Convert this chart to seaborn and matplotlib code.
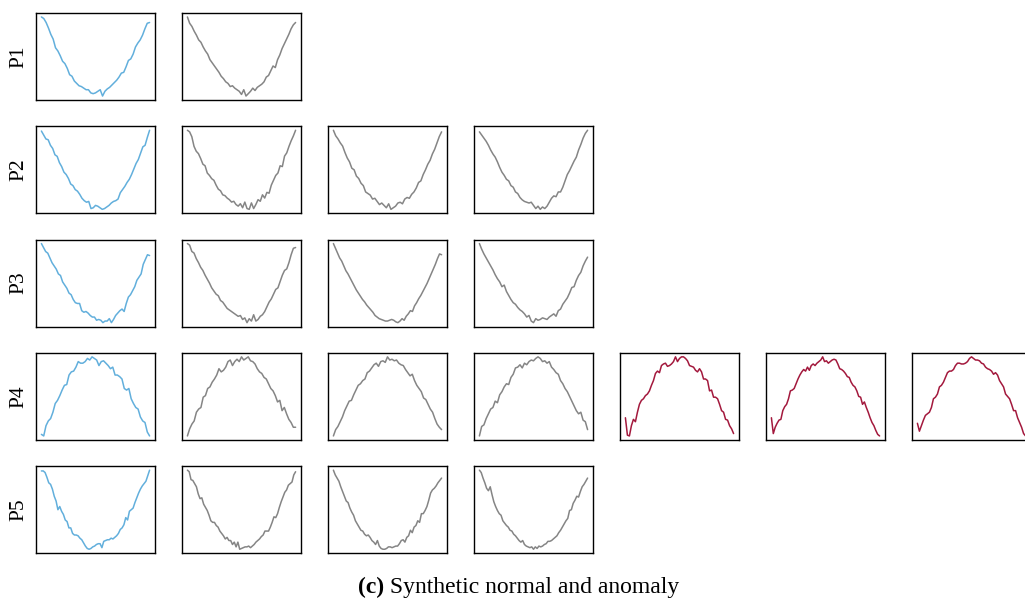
# Synthetic normal and anomaly series, one small panel per series
import numpy as np
import matplotlib.pyplot as plt
import seaborn as sns

# --- values (normalised amplitude, 0 = lowest point) ---
p1_ref = [1.00, 0.98, 0.93, 0.86, 0.78, 0.72, 0.61, 0.57, 0.51, 0.44, 0.41, 0.35, 0.27, 0.25, 0.19, 0.16,
          0.13, 0.12, 0.10, 0.08, 0.08, 0.04, 0.03, 0.04, 0.06, 0.08, 0.00, 0.06, 0.09, 0.11, 0.14, 0.17,
          0.20, 0.24, 0.29, 0.30, 0.37, 0.45, 0.47, 0.53, 0.62, 0.67, 0.71, 0.77, 0.85, 0.92, 0.93]
p1_n1 = [1.00, 0.92, 0.88, 0.82, 0.77, 0.71, 0.68, 0.62, 0.57, 0.53, 0.46, 0.42, 0.38, 0.34, 0.30, 0.25,
         0.22, 0.18, 0.16, 0.12, 0.13, 0.10, 0.08, 0.06, 0.02, 0.08, 0.00, 0.03, 0.06, 0.10, 0.07, 0.11,
         0.13, 0.15, 0.18, 0.24, 0.26, 0.32, 0.38, 0.36, 0.46, 0.52, 0.60, 0.66, 0.72, 0.78, 0.85, 0.90, 0.93]

p2_ref = [1.00, 0.95, 0.90, 0.89, 0.82, 0.78, 0.70, 0.68, 0.60, 0.55, 0.48, 0.45, 0.40, 0.33, 0.31, 0.26,
          0.24, 0.20, 0.15, 0.12, 0.10, 0.11, 0.02, 0.03, 0.06, 0.05, 0.03, 0.01, 0.02, 0.04, 0.06, 0.09,
          0.11, 0.12, 0.14, 0.22, 0.26, 0.30, 0.35, 0.39, 0.45, 0.52, 0.59, 0.64, 0.72, 0.80, 0.82, 0.92, 1.01]
p2_n1 = [0.98, 0.96, 0.90, 0.78, 0.72, 0.69, 0.63, 0.56, 0.54, 0.45, 0.42, 0.38, 0.36, 0.30, 0.25, 0.23,
         0.18, 0.17, 0.14, 0.12, 0.09, 0.10, 0.06, 0.04, 0.07, 0.02, 0.09, 0.01, 0.00, 0.08, 0.01, 0.06,
         0.12, 0.10, 0.18, 0.14, 0.21, 0.20, 0.30, 0.36, 0.42, 0.45, 0.54, 0.53, 0.66, 0.70, 0.78, 0.85, 0.91, 0.98]
p2_n2 = [1.00, 0.93, 0.89, 0.84, 0.80, 0.72, 0.65, 0.60, 0.52, 0.50, 0.42, 0.39, 0.33, 0.30, 0.22, 0.20,
         0.18, 0.13, 0.14, 0.10, 0.06, 0.08, 0.05, 0.02, 0.07, 0.00, 0.02, 0.04, 0.08, 0.09, 0.07, 0.13,
         0.15, 0.14, 0.19, 0.22, 0.27, 0.34, 0.36, 0.44, 0.50, 0.57, 0.62, 0.70, 0.76, 0.84, 0.92, 0.98]
p2_n3 = [0.98, 0.94, 0.90, 0.86, 0.81, 0.75, 0.70, 0.66, 0.60, 0.53, 0.47, 0.43, 0.38, 0.36, 0.30, 0.28,
         0.22, 0.20, 0.15, 0.12, 0.10, 0.09, 0.08, 0.09, 0.05, 0.01, 0.04, 0.00, 0.03, 0.01, 0.04, 0.09,
         0.14, 0.17, 0.16, 0.22, 0.22, 0.28, 0.36, 0.44, 0.49, 0.55, 0.61, 0.66, 0.75, 0.82, 0.90, 0.96, 1.00]

p3_ref = [1.00, 0.95, 0.90, 0.88, 0.82, 0.76, 0.72, 0.68, 0.62, 0.60, 0.52, 0.48, 0.44, 0.38, 0.36, 0.30,
          0.26, 0.25, 0.25, 0.16, 0.14, 0.15, 0.13, 0.10, 0.08, 0.08, 0.04, 0.05, 0.04, 0.01, 0.03, 0.03,
          0.06, 0.01, 0.05, 0.10, 0.13, 0.16, 0.18, 0.15, 0.25, 0.33, 0.36, 0.41, 0.46, 0.54, 0.58, 0.62,
          0.74, 0.80, 0.86, 0.85]
p3_n1 = [1.00, 0.98, 0.90, 0.88, 0.81, 0.76, 0.70, 0.66, 0.60, 0.55, 0.50, 0.44, 0.40, 0.36, 0.34, 0.28,
         0.26, 0.22, 0.18, 0.16, 0.14, 0.12, 0.10, 0.08, 0.09, 0.04, 0.06, 0.00, 0.05, 0.02, 0.10, 0.02,
         0.04, 0.08, 0.10, 0.14, 0.20, 0.26, 0.30, 0.36, 0.42, 0.44, 0.52, 0.60, 0.66, 0.68, 0.76, 0.86, 0.94, 0.95]
p3_n2 = [1.00, 0.94, 0.88, 0.82, 0.78, 0.72, 0.66, 0.62, 0.57, 0.52, 0.47, 0.42, 0.38, 0.34, 0.30, 0.27,
         0.23, 0.20, 0.17, 0.14, 0.10, 0.08, 0.06, 0.05, 0.04, 0.03, 0.03, 0.04, 0.05, 0.04, 0.02, 0.01,
         0.03, 0.06, 0.04, 0.09, 0.12, 0.16, 0.15, 0.22, 0.26, 0.31, 0.35, 0.40, 0.45, 0.50, 0.56, 0.62,
         0.68, 0.74, 0.81, 0.87, 0.86]
p3_n3 = [1.00, 0.93, 0.87, 0.82, 0.77, 0.72, 0.67, 0.61, 0.56, 0.52, 0.46, 0.48, 0.40, 0.35, 0.30, 0.26,
         0.24, 0.20, 0.17, 0.15, 0.12, 0.08, 0.10, 0.03, 0.01, 0.06, 0.04, 0.05, 0.07, 0.06, 0.05, 0.08,
         0.10, 0.12, 0.09, 0.16, 0.18, 0.24, 0.28, 0.32, 0.38, 0.45, 0.46, 0.54, 0.60, 0.64, 0.72, 0.78, 0.83]

p4_ref = [0.02, 0.00, 0.13, 0.19, 0.22, 0.30, 0.41, 0.45, 0.51, 0.58, 0.64, 0.65, 0.77, 0.81, 0.82, 0.87,
          0.94, 0.92, 0.92, 0.94, 0.98, 0.96, 1.00, 0.98, 0.96, 0.89, 0.94, 0.95, 0.92, 0.89, 0.85, 0.87,
          0.77, 0.77, 0.75, 0.72, 0.60, 0.58, 0.60, 0.47, 0.41, 0.36, 0.34, 0.24, 0.19, 0.17, 0.05, 0.00]
p4_n1 = [0.00, 0.09, 0.15, 0.19, 0.30, 0.34, 0.36, 0.49, 0.51, 0.60, 0.62, 0.68, 0.72, 0.77, 0.85, 0.81,
         0.83, 0.87, 0.94, 0.96, 0.89, 0.94, 0.97, 0.94, 1.00, 0.96, 0.98, 1.00, 0.95, 0.94, 0.91, 0.85,
         0.81, 0.79, 0.74, 0.72, 0.66, 0.60, 0.57, 0.51, 0.43, 0.45, 0.32, 0.36, 0.28, 0.21, 0.17, 0.11, 0.11]
p4_n2 = [0.00, 0.08, 0.12, 0.18, 0.24, 0.32, 0.38, 0.44, 0.45, 0.52, 0.58, 0.64, 0.66, 0.70, 0.72, 0.80,
         0.82, 0.86, 0.90, 0.92, 0.88, 0.94, 0.95, 0.93, 1.00, 0.96, 0.97, 0.95, 0.96, 0.92, 0.90, 0.89,
         0.84, 0.80, 0.76, 0.78, 0.70, 0.64, 0.60, 0.56, 0.48, 0.46, 0.40, 0.34, 0.30, 0.22, 0.15, 0.11, 0.08]
p4_n3 = [0.00, 0.12, 0.14, 0.22, 0.28, 0.34, 0.36, 0.44, 0.42, 0.52, 0.56, 0.62, 0.66, 0.65, 0.74, 0.78,
         0.86, 0.87, 0.90, 0.86, 0.92, 0.90, 0.94, 0.96, 0.95, 0.98, 1.00, 0.98, 0.94, 0.95, 0.92, 0.94,
         0.87, 0.84, 0.80, 0.78, 0.70, 0.66, 0.60, 0.56, 0.50, 0.44, 0.38, 0.32, 0.28, 0.30, 0.20, 0.18, 0.08]
p4_a1 = [0.23, 0.01, 0.00, 0.13, 0.21, 0.18, 0.30, 0.40, 0.45, 0.47, 0.51, 0.53, 0.57, 0.64, 0.70, 0.79,
         0.82, 0.80, 0.89, 0.91, 0.92, 0.88, 0.89, 0.91, 0.94, 1.00, 0.94, 0.98, 1.00, 1.00, 0.98, 0.95,
         0.89, 0.88, 0.87, 0.83, 0.81, 0.85, 0.81, 0.72, 0.72, 0.70, 0.57, 0.58, 0.49, 0.49, 0.47, 0.40,
         0.32, 0.30, 0.21, 0.20, 0.13, 0.09, 0.03]
p4_a2 = [0.23, 0.03, 0.11, 0.16, 0.20, 0.21, 0.32, 0.37, 0.40, 0.47, 0.57, 0.58, 0.60, 0.66, 0.72, 0.77,
         0.81, 0.84, 0.82, 0.87, 0.83, 0.89, 0.91, 0.89, 0.92, 0.94, 0.96, 1.00, 0.94, 0.95, 0.92, 0.94,
         0.96, 0.97, 0.96, 0.91, 0.85, 0.84, 0.82, 0.79, 0.75, 0.74, 0.68, 0.64, 0.62, 0.57, 0.50, 0.49,
         0.40, 0.43, 0.36, 0.30, 0.23, 0.17, 0.13, 0.07, 0.02, 0.00]
p4_a3 = [0.16, 0.06, 0.13, 0.20, 0.26, 0.28, 0.30, 0.36, 0.47, 0.49, 0.53, 0.62, 0.64, 0.68, 0.74, 0.80,
         0.82, 0.82, 0.84, 0.89, 0.92, 0.92, 0.91, 0.91, 0.92, 0.94, 0.98, 1.00, 0.98, 0.96, 0.96, 0.95,
         0.92, 0.91, 0.87, 0.85, 0.84, 0.82, 0.78, 0.80, 0.77, 0.70, 0.66, 0.62, 0.53, 0.50, 0.47, 0.40,
         0.32, 0.32, 0.23, 0.17, 0.11, 0.03, 0.00]

p5_ref = [0.99, 0.99, 0.97, 0.91, 0.84, 0.82, 0.76, 0.67, 0.61, 0.50, 0.54, 0.48, 0.44, 0.37, 0.35, 0.27,
          0.27, 0.20, 0.18, 0.18, 0.17, 0.14, 0.12, 0.08, 0.04, 0.01, 0.00, 0.01, 0.03, 0.04, 0.06, 0.07,
          0.07, 0.02, 0.10, 0.11, 0.12, 0.12, 0.14, 0.13, 0.15, 0.17, 0.20, 0.25, 0.27, 0.31, 0.40, 0.37,
          0.48, 0.50, 0.52, 0.59, 0.65, 0.71, 0.76, 0.80, 0.83, 0.86, 0.93, 1.00]
p5_n1 = [1.00, 0.98, 0.88, 0.87, 0.83, 0.79, 0.70, 0.64, 0.65, 0.57, 0.53, 0.49, 0.43, 0.36, 0.34, 0.34,
         0.30, 0.28, 0.23, 0.20, 0.17, 0.13, 0.15, 0.11, 0.11, 0.06, 0.09, 0.03, 0.09, 0.00, 0.01, 0.02,
         0.03, 0.03, 0.04, 0.02, 0.04, 0.06, 0.09, 0.11, 0.13, 0.16, 0.18, 0.23, 0.23, 0.23, 0.28, 0.34,
         0.41, 0.40, 0.45, 0.53, 0.60, 0.66, 0.72, 0.75, 0.81, 0.83, 0.85, 0.94, 0.98]
p5_n2 = [1.00, 0.94, 0.90, 0.86, 0.79, 0.73, 0.67, 0.61, 0.59, 0.52, 0.47, 0.43, 0.36, 0.32, 0.28, 0.24,
         0.23, 0.19, 0.17, 0.18, 0.15, 0.11, 0.09, 0.06, 0.11, 0.04, 0.01, 0.00, 0.00, 0.01, 0.03, 0.03,
         0.02, 0.03, 0.04, 0.04, 0.07, 0.11, 0.12, 0.09, 0.15, 0.17, 0.24, 0.21, 0.28, 0.30, 0.36, 0.34,
         0.45, 0.45, 0.49, 0.54, 0.62, 0.71, 0.75, 0.77, 0.80, 0.84, 0.87, 0.90]
p5_n3 = [1.00, 0.97, 0.90, 0.84, 0.77, 0.74, 0.79, 0.69, 0.60, 0.54, 0.49, 0.45, 0.43, 0.36, 0.33, 0.30,
         0.28, 0.24, 0.23, 0.19, 0.17, 0.14, 0.11, 0.09, 0.11, 0.06, 0.04, 0.03, 0.02, 0.03, 0.00, 0.03,
         0.01, 0.04, 0.03, 0.04, 0.06, 0.07, 0.10, 0.10, 0.11, 0.13, 0.15, 0.17, 0.21, 0.24, 0.28, 0.32,
         0.36, 0.39, 0.49, 0.50, 0.58, 0.62, 0.67, 0.66, 0.73, 0.79, 0.82, 0.86, 0.90]

row_labels = ["P1", "P2", "P3", "P4", "P5"]
rows = [
    [(p1_ref, "ref"), (p1_n1, "normal")],
    [(p2_ref, "ref"), (p2_n1, "normal"), (p2_n2, "normal"), (p2_n3, "normal")],
    [(p3_ref, "ref"), (p3_n1, "normal"), (p3_n2, "normal"), (p3_n3, "normal")],
    [(p4_ref, "ref"), (p4_n1, "normal"), (p4_n2, "normal"), (p4_n3, "normal"),
     (p4_a1, "anomaly"), (p4_a2, "anomaly"), (p4_a3, "anomaly")],
    [(p5_ref, "ref"), (p5_n1, "normal"), (p5_n2, "normal"), (p5_n3, "normal")],
]
colors = {"ref": "#62afdc", "normal": "#858585", "anomaly": "#a3193d"}

sns.set_theme(style="white")
plt.rcParams['font.family'] = ['Liberation Serif', 'DejaVu Serif']
plt.rcParams['text.color'] = 'black'

W, H = 1025, 602
fig = plt.figure(figsize=(W / 100, H / 100), dpi=100)

# panel grid in pixels
x0, dx, pw = 36, 146, 119
y0, dy, ph = 13, 113.3, 87

for r, row in enumerate(rows):
    top = y0 + r * dy
    for c, (vals, kind) in enumerate(row):
        left = x0 + c * dx
        ax = fig.add_axes([left / W, 1 - (top + ph) / H, pw / W, ph / H])
        sns.lineplot(x=np.arange(len(vals)), y=vals, ax=ax, color=colors[kind], lw=1.1)
        ax.set_xticks([])
        ax.set_yticks([])
        ax.set_xlabel("")
        ax.set_ylabel("")
        ax.margins(x=0.05, y=0.05)
        for s in ax.spines.values():
            s.set_color("black")
            s.set_linewidth(1.0)
    fig.text(19 / W, 1 - (top + ph / 2) / H, row_labels[r], rotation=90,
             ha="center", va="center", fontsize=15.5)

# caption: bold "(c)" followed by the normal text
cap = fig.text(358 / W, 1 - 587 / H, "(c)", fontweight="bold", fontsize=17,
               ha="left", va="center")
fig.axes[0].annotate(" Synthetic normal and anomaly", xy=(1, 0), xycoords=cap,
                     va="bottom", ha="left", fontsize=17, annotation_clip=False)

fig.savefig("out.png", dpi=100)
